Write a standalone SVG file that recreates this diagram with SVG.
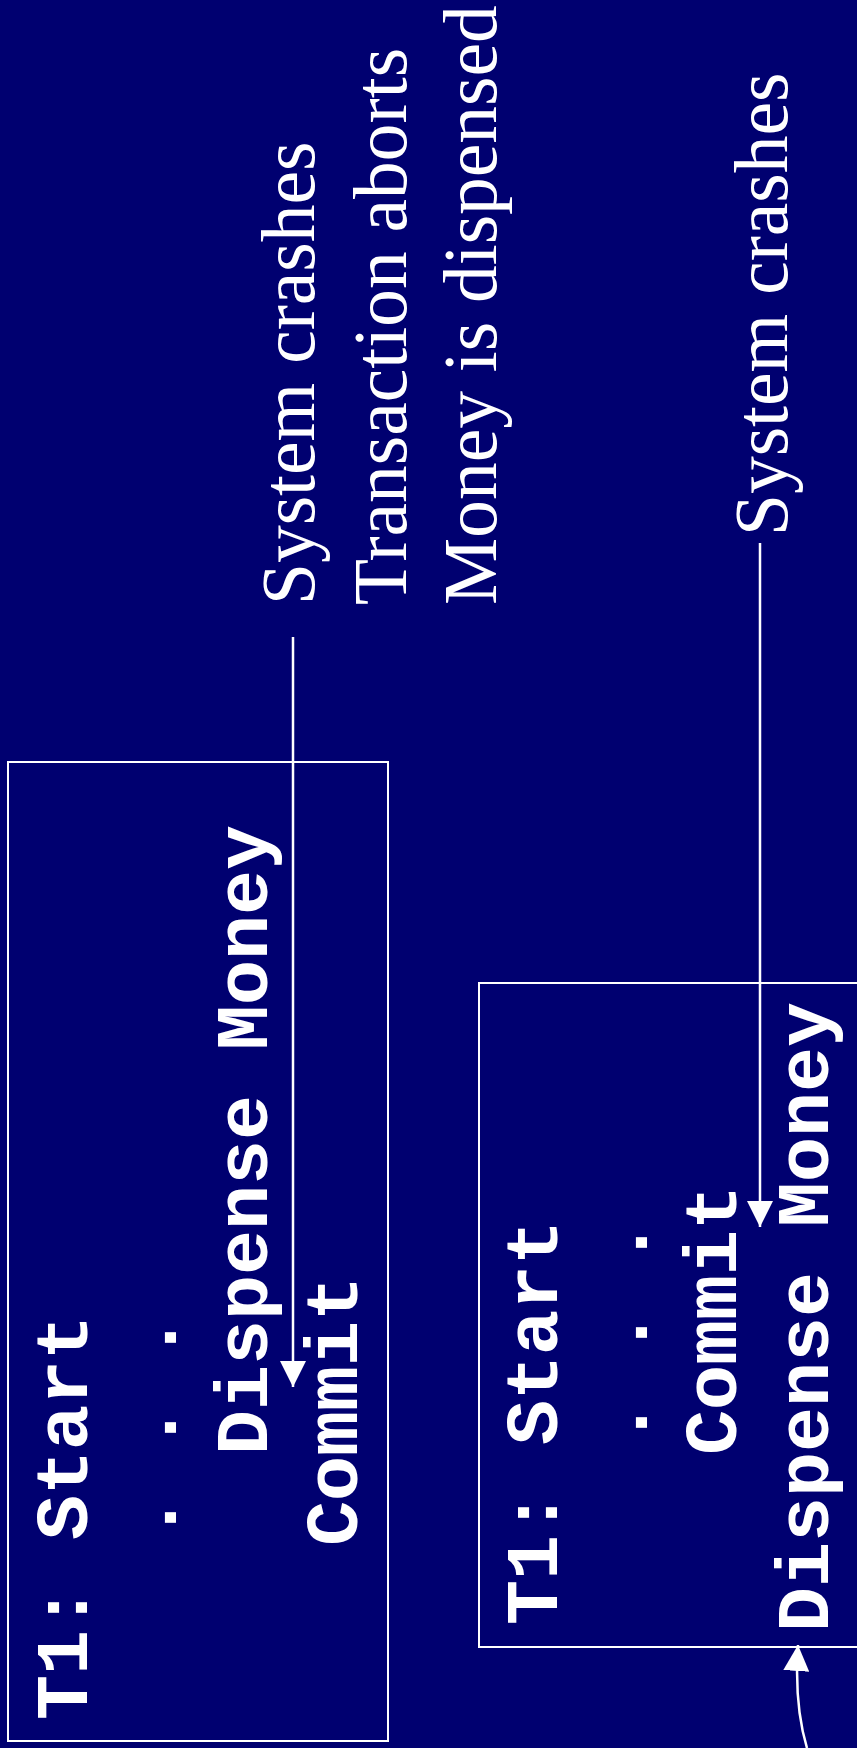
<svg xmlns="http://www.w3.org/2000/svg" width="857" height="1748" viewBox="0 0 857 1748">
<style>
.bg{fill:#000070}
.box{fill:none;stroke:#ffffff;stroke-width:2}
.mono{font-family:"Liberation Mono","Courier New",monospace;font-weight:bold;font-size:75px;fill:#ffffff;white-space:pre}
.serif{font-family:"Liberation Serif","Times New Roman",serif;font-size:75.5px;fill:#ffffff}
.ln{fill:none;stroke:#ffffff;stroke-width:2.5}
</style>
<defs>
<marker id="ahb" viewBox="0 0 26 26" refX="26" refY="13" markerWidth="26" markerHeight="26" markerUnits="userSpaceOnUse" orient="auto">
<path d="M0,0 L26,13 L0,26 Z" fill="#ffffff"/>
</marker>
</defs>
<rect class="bg" x="0" y="0" width="857" height="1748"/>
<g id="labels-left">
<text class="serif" transform="translate(314,605) rotate(-90)">System crashes</text>
<text class="serif" transform="translate(406,605) rotate(-90)">Transaction aborts</text>
<text class="serif" transform="translate(496,605) rotate(-90)">Money is dispensed</text>
</g>
<g id="label-right">
<text class="serif" transform="translate(787,536) rotate(-90)">System crashes</text>
</g>
<g id="box-left">
<rect class="box" x="8" y="762" width="380" height="979"/>
<text class="mono" transform="translate(87,1720) rotate(-90)">T1: Start</text>
<text class="mono" xml:space="preserve" transform="translate(176,1720) rotate(-90)">    . . .</text>
<text class="mono" transform="translate(267,1455) rotate(-90)">Dispense Money</text>
<text class="mono" transform="translate(357,1546) rotate(-90)">Commit</text>
</g>
<g id="box-right">
<rect class="box" x="479" y="983" width="400" height="664"/>
<text class="mono" transform="translate(557,1625) rotate(-90)">T1: Start</text>
<text class="mono" xml:space="preserve" transform="translate(647,1625) rotate(-90)">    . . .</text>
<text class="mono" transform="translate(736,1455) rotate(-90)">Commit</text>
<text class="mono" transform="translate(828,1632) rotate(-90)">Dispense Money</text>
</g>
<g id="connectors">
<line class="ln" x1="293" y1="637" x2="293" y2="1387" marker-end="url(#ahb)"/>
<line class="ln" x1="760" y1="543" x2="760" y2="1227" marker-end="url(#ahb)"/>
<path class="ln" d="M807,1748 Q794,1705 798,1645" marker-end="url(#ahb)"/>
</g>
</svg>
